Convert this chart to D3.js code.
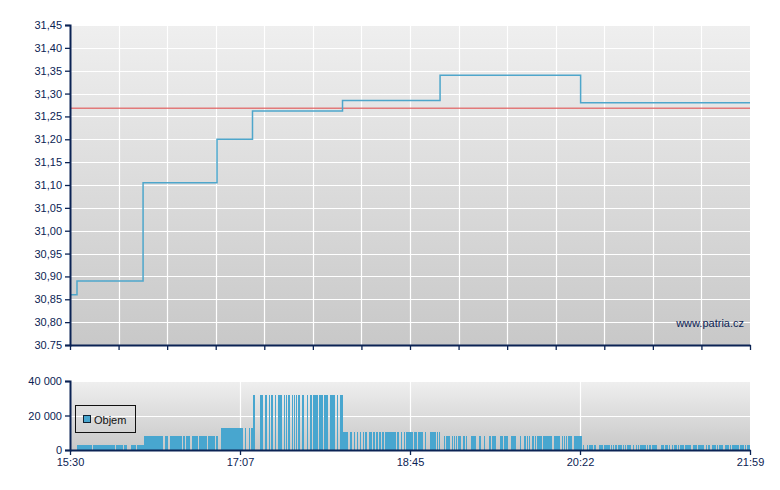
<!DOCTYPE html>
<html><head><meta charset="utf-8">
<script src="https://cdn.jsdelivr.net/npm/d3@7"></script>
<style>body{margin:0;background:#fff}svg{display:block;font-family:"Liberation Sans",Arial,sans-serif}</style>
</head><body><svg id="c" width="780" height="490"></svg>
<script>
// ---- data (minutes after 15:30) ----
const sessionMinutes = 389;
const timeTickValues = [0, 97.25, 194.5, 291.75, 389];
const timeTickLabels = ["15:30", "17:07", "18:45", "20:22", "21:59"];
const priceTicks = [30.75,30.80,30.85,30.90,30.95,31.00,31.05,31.10,31.15,31.20,31.25,31.30,31.35,31.40,31.45];
const priceTickLabels = ["30.75","30,80","30,85","30,90","30,95","31,00","31,05","31,10","31,15","31,20","31,25","31,30","31,35","31,40","31,45"];
const priceTimes  = [0, 4.0, 41.8, 84.1, 104.4, 155.9, 211.7, 292.1, 389];
const priceValues = [30.86, 30.89, 31.105, 31.20, 31.262, 31.285, 31.34, 31.28, 31.28];
const referencePrice = 31.268;
const volumeTicks = [0, 20000, 40000];
const volumeTickLabels = ["0", "20 000", "40 000"];
const volumeLevels = [2900, 8100, 12700, 32000, 10600, 8100, 2900];
const volumeRuns = [
  [[4.0,12.6],[13.2,25.7],[26.3,30.1],[30.9,32.8],[34.9,37.6],[38.3,42.3]],
  [[42.3,53.4],[54.2,56.2],[57.0,63.9],[64.5,65.8],[66.4,68.7],[69.8,73.1],[73.8,78.2],[79.0,83.0],[83.5,84.5]],
  [[86.4,99.0],[100.3,100.7],[102.4,103.0],[103.6,104.5]],
  [[104.5,105.8],[108.7,110.4],[111.6,112.9],[114.0,114.4],[115.0,116.3],[117.1,117.9],[119.0,121.3],[122.3,122.9],[123.6,124.1],[124.7,125.9],[127.0,127.4],[128.2,128.7],[129.3,129.7],[130.4,131.6],[132.7,133.9],[135.6,136.3],[137.1,138.2],[139.0,141.9],[142.6,144.6],[145.3,147.6],[148.7,151.6],[152.6,153.3],[154.5,156.2]],
  [[156.2,159.0],[160.2,161.3],[162.5,163.0],[164.0,164.9],[165.9,166.5],[167.5,168.2],[168.9,169.9],[170.9,171.2],[171.6,172.6],[173.3,174.5],[175.1,176.0],[176.8,177.8],[178.5,179.6],[180.0,186.3],[187.3,188.0],[189.4,190.1],[190.9,191.3],[192.4,196.4],[196.8,198.7],[199.3,202.0],[203.1,203.5],[206.0,209.4],[210.0,210.5],[211.1,211.7]],
  [[214.0,214.5],[215.1,217.4],[218.5,219.1],[219.7,220.3],[220.8,221.4],[222.0,223.7],[224.8,226.0],[226.5,227.1],[229.4,232.3],[234.0,235.1],[236.9,237.4],[239.7,240.9],[241.6,243.7],[246.0,247.9],[248.5,250.6],[252.3,255.2],[257.4,258.0],[259.7,260.9],[261.4,262.0],[262.6,263.2],[264.3,265.5],[266.0,266.6],[267.2,270.0],[270.6,275.8],[276.9,280.3],[281.5,282.0],[282.6,283.2],[283.8,284.3],[284.9,287.2],[288.3,292.9]],
  [[293.5,294.1],[295.8,296.3],[296.9,299.2],[299.8,300.9],[302.6,304.9],[305.5,308.9],[309.5,310.1],[310.6,311.2],[311.8,312.9],[313.5,315.8],[316.4,316.9],[317.5,318.1],[318.7,321.0],[322.1,322.7],[323.8,324.4],[325.0,325.5],[326.1,329.5],[330.1,330.7],[331.3,332.4],[333.0,335.8],[338.1,339.8],[340.4,342.2],[342.7,343.3],[344.4,345.0],[345.6,347.3],[347.8,348.4],[349.0,351.3],[351.8,355.3],[356.4,358.7],[359.3,362.7],[363.9,364.4],[365.0,366.2],[367.3,369.6],[370.2,370.8],[371.3,373.6],[374.7,377.0],[377.6,378.2],[378.7,382.7],[383.3,385.6],[386.2,386.7],[387.3,389.0]]
];
const legendLabel = "Objem";
const watermark = "www.patria.cz";

// ---- drawing ----
const svg = d3.select("#c");
const navy = "#0b2354";
const L = 70, R = 750;
const mainTop = 25, mainBottom = 345;
const volTop = 381, volBottom = 450;

const x = d3.scaleLinear().domain([0, sessionMinutes]).range([L, R]);
const y = d3.scaleLinear().domain([30.75, 31.45]).range([mainBottom, mainTop]);
const yv = d3.scaleLinear().domain([0, 40000]).range([volBottom, volTop]);

const defs = svg.append("defs");
const g1 = defs.append("linearGradient").attr("id","bg").attr("x1",0).attr("y1",0).attr("x2",0).attr("y2",1);
g1.append("stop").attr("offset","0%").attr("stop-color","#efefef");
g1.append("stop").attr("offset","100%").attr("stop-color","#c8c8c8");

// main plot background
svg.append("rect").attr("x",L).attr("y",mainTop).attr("width",R-L).attr("height",mainBottom-mainTop).attr("fill","url(#bg)");
// grid
const gridX = d3.range(15).map(i => i*sessionMinutes/14);
svg.append("g").selectAll("line").data(priceTicks).join("line")
  .attr("x1",L).attr("x2",R).attr("y1",d=>Math.round(y(d))+0.5).attr("y2",d=>Math.round(y(d))+0.5)
  .attr("stroke","#fff").attr("stroke-width",1.2);
svg.append("g").selectAll("line").data(gridX.slice(1,-1)).join("line")
  .attr("x1",d=>Math.round(x(d))+0.5).attr("x2",d=>Math.round(x(d))+0.5).attr("y1",mainTop).attr("y2",mainBottom)
  .attr("stroke","#fff").attr("stroke-width",1.2);

// reference line
svg.append("line").attr("x1",L).attr("x2",R).attr("y1",y(referencePrice)).attr("y2",y(referencePrice))
  .attr("stroke","#e05555").attr("stroke-opacity",0.75).attr("stroke-width",1.6);

// price step line
const pts = priceTimes.map((t,i)=>[t, priceValues[i]]);
const line = d3.line().x(d=>x(d[0])).y(d=>y(d[1])).curve(d3.curveStepAfter);
svg.append("path").datum(pts).attr("d",line).attr("fill","none")
  .attr("stroke","#4ea6cb").attr("stroke-width",1.5);

// main axes
const yAxis = d3.axisLeft(y).tickValues(priceTicks).tickFormat((d,i)=>priceTickLabels[i]).tickSize(5).tickPadding(3);
const ga = svg.append("g").attr("transform",`translate(${L},0)`).call(yAxis);
const xAxisMain = d3.axisBottom(x).tickValues(gridX).tickFormat("").tickSize(5).tickSizeOuter(0);
const gb = svg.append("g").attr("transform",`translate(0,${mainBottom})`).call(xAxisMain);
[ga,gb].forEach(g=>{
  g.selectAll("path").attr("stroke",navy).attr("stroke-width",2);
  g.selectAll("line").attr("stroke",navy).attr("stroke-width",1.3);
  g.selectAll("text").attr("fill",navy).attr("font-size",11).attr("font-family","Liberation Sans, Arial, sans-serif");
});

svg.append("text").attr("x",744).attr("y",327).attr("text-anchor","end")
  .attr("font-size",11).attr("fill",navy).text(watermark);

// volume plot
svg.append("rect").attr("x",L).attr("y",volTop).attr("width",R-L).attr("height",volBottom-volTop).attr("fill","url(#bg)");
svg.append("g").selectAll("line").data(volumeTicks.slice(1)).join("line")
  .attr("x1",L).attr("x2",R).attr("y1",d=>Math.round(yv(d))+0.5).attr("y2",d=>Math.round(yv(d))+0.5)
  .attr("stroke","#fff").attr("stroke-width",1.2);
svg.append("g").selectAll("line").data(timeTickValues.slice(1,-1)).join("line")
  .attr("x1",d=>Math.round(x(d))+0.5).attr("x2",d=>Math.round(x(d))+0.5).attr("y1",volTop).attr("y2",volBottom)
  .attr("stroke","#fff").attr("stroke-width",1.2);

const bars = [];
volumeRuns.forEach((runs,i)=>runs.forEach(r=>bars.push({s:r[0],e:r[1],v:volumeLevels[i]})));
svg.append("g").selectAll("rect").data(bars).join("rect")
  .attr("x",d=>x(d.s)).attr("width",d=>Math.max(0.8, x(d.e)-x(d.s)))
  .attr("y",d=>yv(d.v)).attr("height",d=>yv(0)-yv(d.v))
  .attr("fill","#48a6cf").attr("shape-rendering","crispEdges");

const yvAxis = d3.axisLeft(yv).tickValues(volumeTicks).tickFormat((d,i)=>volumeTickLabels[i]).tickSize(5).tickPadding(3);
const gc = svg.append("g").attr("transform",`translate(${L},0)`).call(yvAxis);
const xAxisVol = d3.axisBottom(x).tickValues(timeTickValues).tickFormat((d,i)=>timeTickLabels[i]).tickSize(5).tickSizeOuter(0).tickPadding(3);
const gd = svg.append("g").attr("transform",`translate(0,${volBottom})`).call(xAxisVol);
[gc,gd].forEach(g=>{
  g.selectAll("path").attr("stroke",navy).attr("stroke-width",2);
  g.selectAll("line").attr("stroke",navy).attr("stroke-width",1.3);
  g.selectAll("text").attr("fill",navy).attr("font-size",11).attr("font-family","Liberation Sans, Arial, sans-serif");
});

// legend
const lg = svg.append("g");
lg.append("rect").attr("x",75.5).attr("y",405.5).attr("width",60).attr("height",27)
  .attr("fill","none").attr("stroke","#111").attr("stroke-width",1);
lg.append("rect").attr("x",83.5).attr("y",415.5).attr("width",7).attr("height",7)
  .attr("fill","#48a6cf").attr("stroke","#123").attr("stroke-width",1);
lg.append("text").attr("x",94).attr("y",423.5).attr("font-size",11).attr("fill","#111").text(legendLabel);
</script></body></html>
